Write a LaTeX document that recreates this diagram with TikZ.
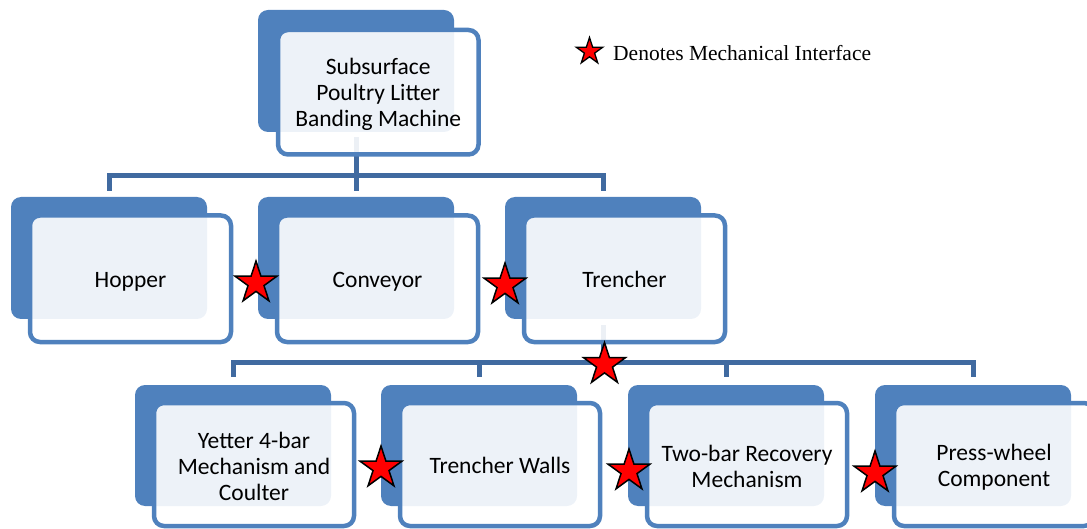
\documentclass[tikz,border=0pt]{standalone}
\usepackage{fontspec}
\setmainfont{Liberation Serif}
\newfontfamily\boxfont{Carlito}
\usetikzlibrary{shapes.geometric}
\definecolor{boxblue}{RGB}{79,129,189}
\definecolor{connblue}{RGB}{64,106,160}
\begin{document}
\begin{tikzpicture}[x=1pt,y=-1pt,
  backbox/.style={fill=boxblue, rounded corners=10pt, inner sep=0pt},
  frontbox/.style={draw=boxblue, line width=4.5pt, fill=white, fill opacity=0.9,
    rounded corners=10pt, inner sep=0pt},
  boxtext/.style={inner sep=0pt, align=center, text=black,
    font=\boxfont\fontsize{23.5}{26}\selectfont},
  conn/.style={draw=connblue, line width=5pt},
  mstar/.style={star, star points=5, star point ratio=2.618, minimum size=44pt, inner sep=0pt,
    fill=red, draw=black, line width=1.5pt}]
\useasboundingbox (0,0) rectangle (1087,529);
\clip (0,0) rectangle (1087,529);

% back boxes
\node[backbox, minimum width=196pt, minimum height=122pt] (topB) at (356,71) {};
\node[backbox, minimum width=196pt, minimum height=122pt] (hopB) at (109,258) {};
\node[backbox, minimum width=196pt, minimum height=122pt] (conB) at (356,258) {};
\node[backbox, minimum width=196pt, minimum height=122pt] (treB) at (603,258) {};
\node[backbox, minimum width=196pt, minimum height=121pt] (yetB) at (233,445.5) {};
\node[backbox, minimum width=196pt, minimum height=121pt] (walB) at (479,445.5) {};
\node[backbox, minimum width=196pt, minimum height=121pt] (twoB) at (726,445.5) {};
\node[backbox, minimum width=196pt, minimum height=121pt] (preB) at (973,445.5) {};

% connectors
\coordinate (bus1) at (356,175.5);
\coordinate (bus2) at (603,362);
\draw[conn, shorten <=5pt, shorten >=6pt] (topB.south) -- (conB.north);
\draw[conn, shorten <=6pt, shorten >=6pt] (hopB.north) |- (bus1) -| (treB.north);
\draw[conn, shorten <=6pt] (treB.south) -- (bus2);
\draw[conn, shorten <=8pt, shorten >=8pt] (yetB.north) |- (bus2) -| (preB.north);
\draw[conn, shorten >=8pt] (walB.north |- bus2) -- (walB.north);
\draw[conn, shorten >=8pt] (twoB.north |- bus2) -- (twoB.north);

% front boxes
\node[frontbox, minimum width=200.5pt, minimum height=124.5pt] (topF) at (378.25,92.25) {};
\node[frontbox, minimum width=201pt, minimum height=126.5pt] (hopF) at (130.5,278.75) {};
\node[frontbox, minimum width=201pt, minimum height=126.5pt] (conF) at (377.5,278.75) {};
\node[frontbox, minimum width=201pt, minimum height=126.5pt] (treF) at (624.5,278.75) {};
\node[frontbox, minimum width=200pt, minimum height=123pt] (yetF) at (254,464.5) {};
\node[frontbox, minimum width=200pt, minimum height=123pt] (walF) at (500,464.5) {};
\node[frontbox, minimum width=200pt, minimum height=123pt] (twoF) at (747,464.5) {};
\node[frontbox, minimum width=200pt, minimum height=123pt] (preF) at (994,464.5) {};

% box texts
\node[boxtext] (topT) at ([yshift=-2pt]topF.center) {Subsurface\\Poultry Litter\\Banding Machine};
\node[boxtext, anchor=base] (hopT) at ([yshift=-8.5pt]hopF.center) {Hopper};
\node[boxtext, anchor=base] (conT) at ([yshift=-8.5pt]conF.center) {Conveyor};
\node[boxtext, anchor=base] (treT) at ([yshift=-8.5pt]treF.center) {Trencher};
\node[boxtext] (yetT) at ([yshift=-2pt]yetF.center) {Yetter 4-bar\\Mechanism and\\Coulter};
\node[boxtext, anchor=base] (walT) at ([yshift=-8.5pt]walF.center) {Trencher Walls};
\node[boxtext] (twoT) at ([yshift=-2pt]twoF.center) {Two-bar Recovery\\Mechanism};
\node[boxtext] (preT) at ([yshift=-3pt]preF.center) {Press-wheel\\Component};

% stars
\node[mstar] (s1) at (256,283) {};
\node[mstar] (s2) at (505,285) {};
\node[mstar] (s3) at (604.5,364.5) {};
\node[mstar] (s4) at (381,468) {};
\node[mstar] (s5) at (629,471) {};
\node[mstar] (s6) at (875,473) {};

% legend
\node[mstar, minimum size=28pt, line width=1.3pt] (sl) at (589.5,51.5) {};
\node[anchor=base west, inner sep=0pt, font=\fontsize{21.5}{24}\selectfont] (legend) at (613,61) {Denotes Mechanical Interface};
\end{tikzpicture}
\end{document}
